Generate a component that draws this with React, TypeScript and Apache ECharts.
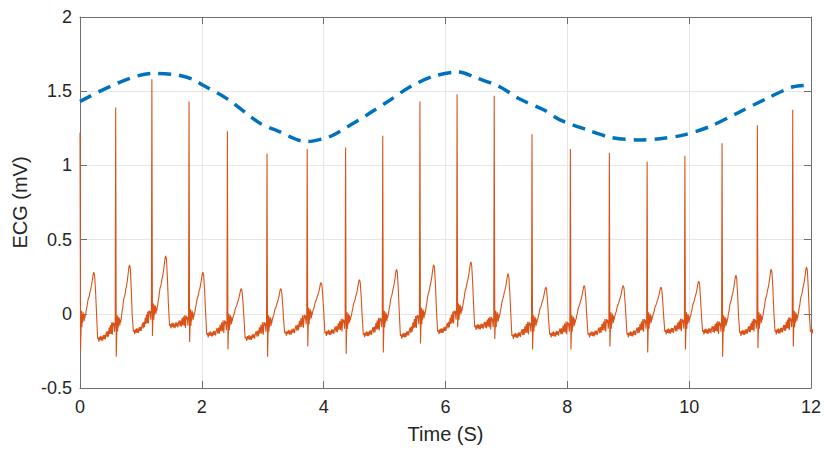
import React, { useEffect, useRef } from "react";
import * as echarts from "echarts";

// R-peak times (s) and amplitudes (mV)
const rTimes = [0.0, 0.586, 1.18, 1.79, 2.42, 3.07, 3.73, 4.36, 4.97, 5.58, 6.19, 6.8, 7.42, 8.05, 8.69, 9.31, 9.93, 10.54, 11.12, 11.7];
const rPeaks = [1.22, 1.39, 1.58, 1.43, 1.23, 1.08, 1.11, 1.12, 1.2, 1.43, 1.48, 1.47, 1.21, 1.11, 1.085, 1.025, 1.065, 1.15, 1.27, 1.375];
const sDips = [-0.25, -0.29, -0.15, -0.19, -0.24, -0.29, -0.22, -0.27, -0.26, -0.2, -0.09, -0.17, -0.24, -0.24, -0.22, -0.26, -0.24, -0.29, -0.23, -0.22];
const tPeaks = [0.28, 0.33, 0.39, 0.28, 0.17, 0.17, 0.21, 0.23, 0.3, 0.33, 0.35, 0.27, 0.18, 0.19, 0.19, 0.18, 0.22, 0.26, 0.3, 0.315];
const troughs = [-0.17, -0.12, -0.08, -0.14, -0.165, -0.13, -0.13, -0.14, -0.15, -0.12, -0.09, -0.15, -0.14, -0.14, -0.14, -0.12, -0.12, -0.13, -0.12, -0.12];
const preLevels = [-0.05, -0.08, 0.0, -0.04, -0.07, -0.08, -0.03, -0.06, -0.05, -0.03, 0.0, -0.05, -0.08, -0.08, -0.06, -0.06, -0.06, -0.08, -0.06, -0.05];

// shape of one beat (offsets in s from the R peak)
const qrsDt = [-0.03, -0.018, -0.008, 0, 0.009, 0.02];
const stDt = [0.026, 0.032, 0.038, 0.044, 0.05, 0.056, 0.062, 0.068, 0.074, 0.08, 0.086];
const stNoise = [0.05, -0.06, 0.03, -0.03, 0.04, -0.01, 0.03, -0.02, 0.02, 0.0, 0.02];
const tDt = [0.095, 0.105, 0.115, 0.125, 0.135, 0.145, 0.155, 0.165, 0.175, 0.19, 0.205, 0.218, 0.228, 0.24, 0.255, 0.27];
const tFrac = [0.1, 0.2, 0.25, 0.35, 0.42, 0.45, 0.5, 0.58, 0.62, 0.72, 0.85, 0.97, 1.0, 0.93, 0.6, 0.15];
const troughDt = 0.29;
const baseFrac = [0.04, 0.08, 0.12, 0.16, 0.2, 0.24, 0.28, 0.32, 0.36, 0.4, 0.44, 0.48, 0.52, 0.56, 0.6, 0.64, 0.68, 0.72, 0.76, 0.8, 0.84, 0.88, 0.92, 0.96, 1.0];
const baseRise = [0, 0.02, 0.0, 0.03, 0.02, 0.05, 0.08, 0.1, 0.08, 0.12, 0.15, 0.2, 0.25, 0.28, 0.3, 0.38, 0.45, 0.52, 0.6, 0.66, 0.72, 0.8, 0.87, 0.93, 1.0];
const baseNoise = [0.01, -0.02, 0.015, -0.01, 0.02, -0.015, 0.01, -0.02, 0.02, -0.01, 0.015, -0.02, 0.01, 0.025, -0.015, 0.02, -0.025, 0.03, -0.02, 0.035, -0.03, 0.04, -0.05, 0.03, 0.0];

// smooth dashed curve
const envTimes = [0, 1.18, 1.59, 1.85, 2.02, 2.41, 2.95, 3.23, 3.72, 3.99, 4.16, 4.71, 5.09, 5.42, 5.8, 6.21, 6.51, 6.89, 7.22, 7.61, 7.88, 8.32, 8.7, 9.14, 9.52, 9.9, 10.34, 10.78, 11.27, 11.71, 12];
const envValues = [1.43, 1.62, 1.61, 1.58, 1.54, 1.45, 1.285, 1.235, 1.16, 1.18, 1.205, 1.34, 1.44, 1.53, 1.6, 1.63, 1.59, 1.53, 1.447, 1.375, 1.307, 1.24, 1.19, 1.172, 1.18, 1.204, 1.262, 1.35, 1.45, 1.53, 1.54];

const xTicks = { min: 0, max: 12, interval: 2 };
const yTicks = { min: -0.5, max: 2, interval: 0.5 };

function buildEcg(): number[][] {
  const pts: number[][] = [];
  for (let i = 0; i < rTimes.length; i++) {
    const r = rTimes[i];
    const rn = i + 1 < rTimes.length ? rTimes[i + 1] : r + 0.6;
    const pre = preLevels[i];
    const st = pre + 0.02;
    const qrsV = [pre + 0.02, pre - 0.04, pre + 0.02, rPeaks[i], sDips[i], pre];
    qrsDt.forEach((d, k) => {
      if (r + d >= 0) pts.push([r + d, qrsV[k]]);
    });
    stDt.forEach((d, k) => pts.push([r + d, st + stNoise[k]]));
    tDt.forEach((d, k) => pts.push([r + d, st + tFrac[k] * (tPeaks[i] - st)]));
    pts.push([r + troughDt, troughs[i]]);
    const b0 = r + troughDt;
    const b1 = rn - 0.035;
    const nextPre = i + 1 < preLevels.length ? preLevels[i + 1] : -0.05;
    baseFrac.forEach((f, k) => {
      pts.push([b0 + f * (b1 - b0), troughs[i] + baseRise[k] * (nextPre - troughs[i]) + baseNoise[k]]);
    });
  }
  return pts;
}

const FONT = "'Liberation Sans', Arial, Helvetica, sans-serif";
const AXIS = "#6f6f6f";

export default function App() {
  const ref = useRef<HTMLDivElement>(null);
  useEffect(() => {
    if (!ref.current) return;
    const chart = echarts.init(ref.current, undefined, { renderer: "svg" });
    const ecg = buildEcg();
    const env = envTimes.map((t, i) => [t, envValues[i]]);
    const commonLine = { show: true, onZero: false, lineStyle: { color: AXIS, width: 1 } };
    const commonTick = { show: true, inside: true, length: 7, lineStyle: { color: AXIS, width: 1 } };
    chart.setOption({
      animation: false,
      backgroundColor: "#ffffff",
      grid: { left: 80, right: 19, top: 17, bottom: 65 },
      xAxis: [
        {
          type: "value",
          ...xTicks,
          name: "Time (S)",
          nameLocation: "middle",
          nameGap: 36,
          nameTextStyle: { fontFamily: FONT, fontSize: 20, color: "#262626" },
          axisLine: commonLine,
          axisTick: commonTick,
          axisLabel: { margin: 10, fontFamily: FONT, fontSize: 18, color: "#262626" },
          splitLine: { show: true, lineStyle: { color: "#e6e6e6", width: 1 } },
        },
        {
          type: "value",
          ...xTicks,
          position: "top",
          axisLine: commonLine,
          axisTick: commonTick,
          axisLabel: { show: false },
          splitLine: { show: false },
        },
      ],
      yAxis: [
        {
          type: "value",
          ...yTicks,
          name: "ECG (mV)",
          nameLocation: "middle",
          nameGap: 46,
          nameTextStyle: { fontFamily: FONT, fontSize: 20, color: "#262626" },
          axisLine: commonLine,
          axisTick: commonTick,
          axisLabel: { margin: 8, fontFamily: FONT, fontSize: 18, color: "#262626" },
          splitLine: { show: true, lineStyle: { color: "#e6e6e6", width: 1 } },
        },
        {
          type: "value",
          ...yTicks,
          position: "right",
          axisLine: commonLine,
          axisTick: commonTick,
          axisLabel: { show: false },
          splitLine: { show: false },
        },
      ],
      series: [
        {
          type: "line",
          data: ecg,
          showSymbol: false,
          symbol: "none",
          clip: true,
          lineStyle: { color: "#D95319", width: 1.1 },
          z: 2,
        },
        {
          type: "line",
          data: env,
          showSymbol: false,
          symbol: "none",
          smooth: 0.3,
          clip: true,
          lineStyle: { color: "#0072BD", width: 3.5, type: [13, 8], cap: "butt" },
          z: 3,
        },
      ],
    });
    return () => chart.dispose();
  }, []);
  return <div ref={ref} style={{ position: "fixed", left: 0, top: 0, width: 830, height: 453 }} />;
}
